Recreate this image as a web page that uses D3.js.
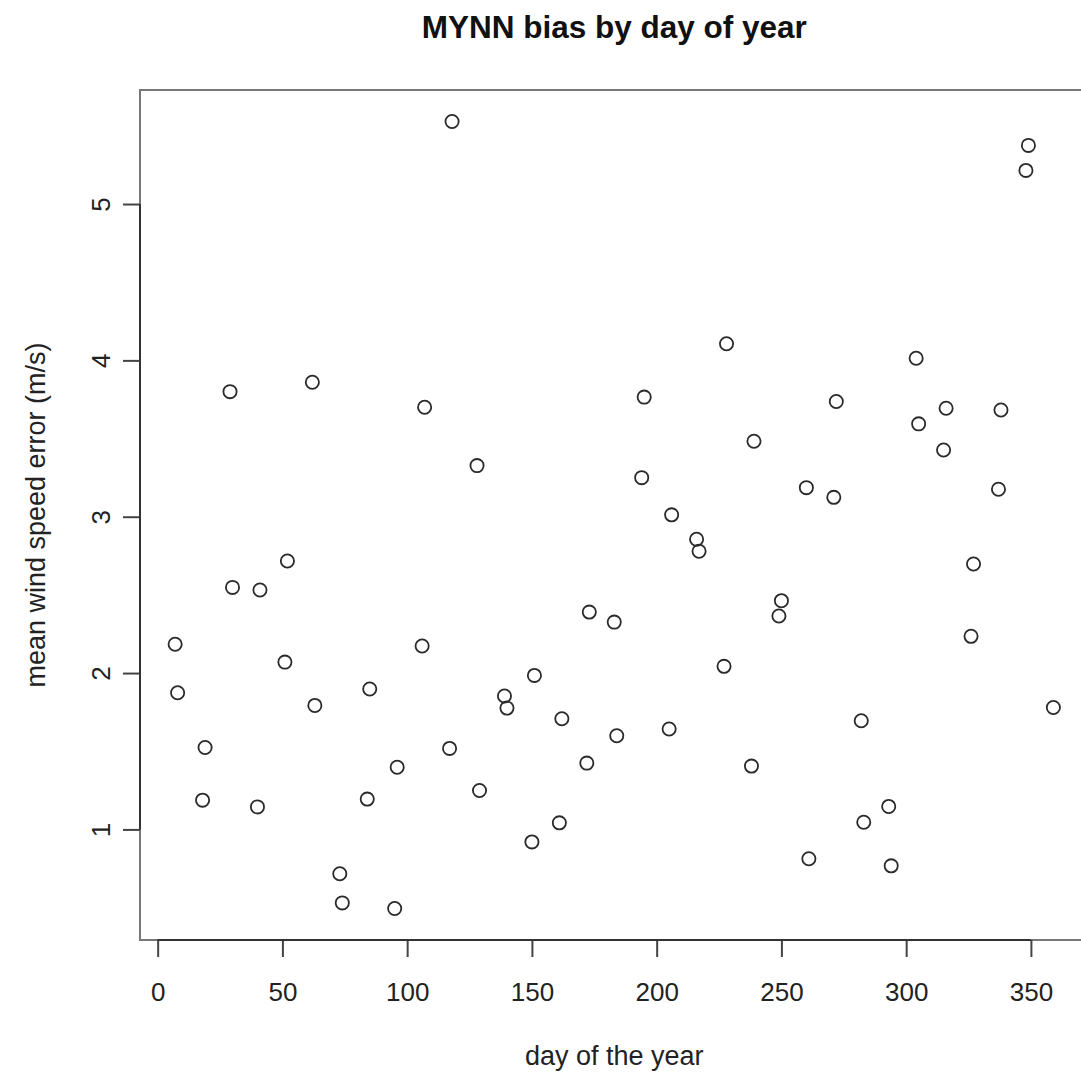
<!DOCTYPE html>
<html>
<head>
<meta charset="utf-8">
<script src="https://cdn.jsdelivr.net/npm/d3@7/dist/d3.min.js"></script>
<style>
  html, body { margin: 0; padding: 0; background: #fff; }
  svg { display: block; font-family: "Liberation Sans", Arial, Helvetica, sans-serif; }
</style>
</head>
<body>
<svg id="chart" width="1081" height="1072"></svg>
<script>
// Day of year for each forecast sample
const days = [7, 8, 18, 19, 29, 30, 40, 41, 51, 52, 62, 63, 73, 74, 84, 85, 95, 96,
  106, 107, 117, 118, 128, 129, 139, 140, 150, 151, 161, 162, 172, 173, 183, 184,
  194, 195, 205, 206, 216, 217, 227, 228, 238, 239, 249, 250, 260, 261, 271, 272,
  282, 283, 293, 294, 304, 305, 315, 316, 326, 327, 337, 338, 348, 349, 359];

// Mean wind speed error (m/s) on that day
const meanError = [2.184, 1.874, 1.187, 1.524, 3.800, 2.548, 1.144, 2.531, 2.070, 2.717,
  3.860, 1.793, 0.716, 0.530, 1.194, 1.898, 0.494, 1.398, 2.173, 3.700, 1.518, 5.528,
  3.327, 1.249, 1.853, 1.776, 0.920, 1.985, 1.042, 1.708, 1.424, 2.390, 2.326, 1.599,
  3.250, 3.765, 1.642, 3.012, 2.856, 2.779, 2.043, 4.106, 1.405, 3.483, 2.365, 2.463,
  3.186, 0.812, 3.124, 3.737, 1.695, 1.046, 1.147, 0.767, 4.014, 3.594, 3.427, 3.694,
  2.235, 2.698, 3.176, 3.683, 5.215, 5.375, 1.780];

const xTicks = [0, 50, 100, 150, 200, 250, 300, 350];
const yTicks = [1, 2, 3, 4, 5];

const titleText = "MYNN bias by day of year";
const xLabel = "day of the year";
const yLabel = "mean wind speed error (m/s)";

// Plot region (the right edge runs past the window)
const plotLeft = 140, plotRight = 1088.5, plotTop = 90, plotBottom = 940;

// Extend data range by 4% on each side, as base graphics does
function padded(ext) {
  const d = (ext[1] - ext[0]) * 0.04;
  return [ext[0] - d, ext[1] + d];
}

const x = d3.scaleLinear().domain(padded(d3.extent(days))).range([plotLeft, plotRight]);
const y = d3.scaleLinear().domain(padded(d3.extent(meanError))).range([plotBottom, plotTop]);

const svg = d3.select("#chart");
const ink = "#222";
const fontSize = 26;
const labelSize = 27;

// Frame
svg.append("rect")
  .attr("x", plotLeft).attr("y", plotTop)
  .attr("width", plotRight - plotLeft).attr("height", plotBottom - plotTop)
  .attr("fill", "none").attr("stroke", "#777").attr("stroke-width", 2);

// X axis
const xAxis = svg.append("g")
  .attr("transform", `translate(0,${plotBottom})`)
  .call(d3.axisBottom(x).tickValues(xTicks).tickSize(17).tickSizeOuter(0).tickPadding(0)
    .tickFormat(d3.format("d")));
xAxis.select(".domain").remove();
xAxis.append("line")
  .attr("x1", x(xTicks[0])).attr("x2", x(xTicks[xTicks.length - 1]))
  .attr("stroke", "#333").attr("stroke-width", 2);
xAxis.selectAll(".tick line").attr("stroke", "#444").attr("stroke-width", 2);
xAxis.selectAll(".tick text")
  .attr("y", 61).attr("dy", null)
  .attr("fill", ink)
  .style("font-size", fontSize + "px")
  .style("font-family", '"Liberation Sans", Arial, sans-serif');

// Y axis
const yAxis = svg.append("g")
  .attr("transform", `translate(${plotLeft},0)`)
  .call(d3.axisLeft(y).tickValues(yTicks).tickSize(17).tickSizeOuter(0)
    .tickFormat(d3.format("d")));
yAxis.select(".domain").remove();
yAxis.append("line")
  .attr("y1", y(yTicks[0])).attr("y2", y(yTicks[yTicks.length - 1]))
  .attr("stroke", "#333").attr("stroke-width", 2);
yAxis.selectAll(".tick line").attr("stroke", "#444").attr("stroke-width", 2);
yAxis.selectAll(".tick text")
  .attr("x", null).attr("dy", null)
  .attr("transform", "translate(-30,0) rotate(-90)")
  .attr("text-anchor", "middle")
  .attr("fill", ink)
  .style("font-size", fontSize + "px")
  .style("font-family", '"Liberation Sans", Arial, sans-serif');

// Points
svg.append("g")
  .selectAll("circle")
  .data(days.map((d, i) => ({ day: d, err: meanError[i] })))
  .join("circle")
  .attr("cx", d => x(d.day))
  .attr("cy", d => y(d.err))
  .attr("r", 6.6)
  .attr("fill", "none")
  .attr("stroke", "#2a2a2a")
  .attr("stroke-width", 1.8);

// Title
svg.append("text")
  .attr("x", (plotLeft + plotRight) / 2).attr("y", 38)
  .attr("text-anchor", "middle")
  .attr("fill", "#111")
  .style("font-size", "31.5px").style("font-weight", "bold")
  .text(titleText);

// Axis titles
svg.append("text")
  .attr("x", (plotLeft + plotRight) / 2).attr("y", 1065)
  .attr("text-anchor", "middle")
  .attr("fill", ink)
  .style("font-size", labelSize + "px")
  .text(xLabel);

svg.append("text")
  .attr("transform", `translate(45,${(plotTop + plotBottom) / 2}) rotate(-90)`)
  .attr("text-anchor", "middle")
  .attr("fill", ink)
  .style("font-size", labelSize + "px")
  .text(yLabel);
</script>
</body>
</html>
